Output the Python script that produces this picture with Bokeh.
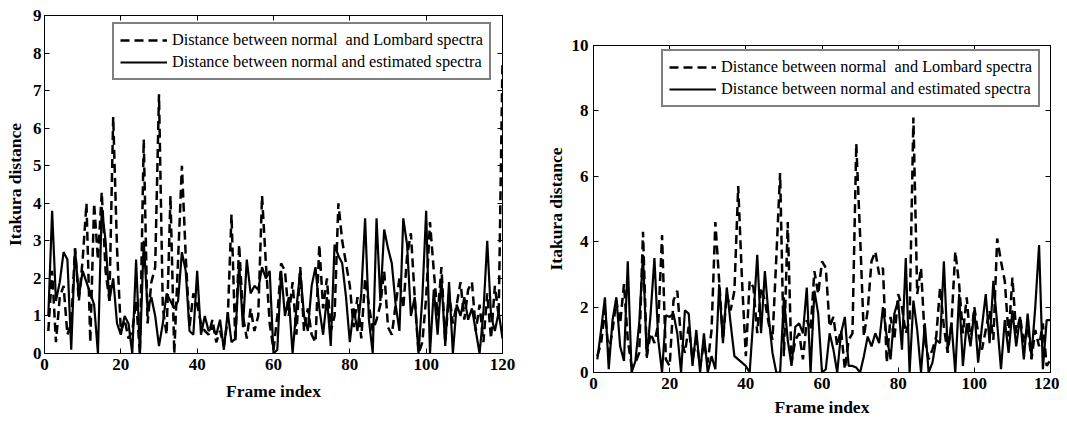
from bokeh.plotting import figure
from bokeh.layouts import row, column
from bokeh.models import Range1d, LinearAxis, FixedTicker, Legend, LegendItem
from bokeh.embed import file_html
from bokeh.resources import INLINE

# ---------------- data ----------------
frames = list(range(1, 121))

left_lombard = [
    0.6, 2.2, 0.3, 1.5, 1.8, 0.5, 0.8, 2.8, 1.4, 2.5,
    4.0, 0.3, 4.0, 2.5, 4.3, 2.2, 1.4, 6.3, 2.8, 0.6,
    0.9, 0.4, 0.6, 1.4, 0.0, 5.7, 0.8, 1.9, 2.3, 6.9,
    1.2, 0.5, 4.2, 0.0, 2.5, 5.0, 2.6, 0.7, 1.6, 1.3,
    0.8, 0.6, 0.5, 0.9, 0.3, 0.6, 0.2, 0.9, 3.7, 0.3,
    2.9, 1.0, 0.4, 1.2, 0.6, 1.0, 4.2, 2.4, 0.8, 0.1,
    1.0, 2.4, 2.2, 1.0, 1.9, 0.5, 2.3, 0.6, 1.2, 0.5,
    0.3, 2.9, 1.2, 2.0, 0.6, 1.0, 4.0, 3.0, 2.4, 1.8,
    0.7, 1.5, 0.4, 2.0, 1.3, 0.6, 0.9, 1.3, 2.2, 0.7,
    0.5, 1.3, 2.0, 1.2, 2.6, 3.2, 1.5, 0.0, 0.3, 1.5,
    3.5, 2.2, 1.0, 2.3, 0.3, 1.6, 0.8, 1.3, 1.9, 0.9,
    1.7, 1.9, 0.6, 1.3, 0.3, 1.6, 0.4, 1.8, 1.0, 7.8,
]
left_estimated = [
    1.0, 3.8, 1.4, 1.9, 2.7, 2.5, 0.1, 2.8, 1.5, 2.2,
    1.9, 1.6, 1.3, 0.0, 3.9, 3.0, 1.4, 2.0, 0.8, 0.5,
    1.0, 0.8, 0.0, 2.5, 0.0, 3.0, 1.2, 1.5, 1.0, 0.2,
    0.8, 1.6, 1.4, 1.2, 1.4, 2.7, 2.2, 0.6, 0.5, 2.2,
    0.5, 1.0, 0.6, 0.7, 0.5, 0.9, 0.1, 1.1, 0.3, 0.4,
    2.4, 0.7, 2.5, 1.6, 1.8, 1.7, 2.3, 2.0, 2.2, 0.0,
    0.1, 2.2, 1.0, 1.5, 0.0, 1.2, 2.2, 1.0, 0.6, 1.8,
    2.3, 1.2, 0.5, 1.5, 0.2, 2.9, 2.6, 2.4, 1.5, 0.3,
    1.2, 0.6, 1.6, 3.6, 0.9, 0.0, 3.6, 1.4, 3.3, 2.8,
    2.4, 1.3, 0.6, 3.6, 2.9, 1.0, 1.5, 0.0, 1.5, 3.8,
    0.0, 1.7, 0.5, 2.0, 0.2, 1.9, 0.0, 1.3, 1.0, 1.5,
    0.9, 1.2, 0.6, 0.0, 1.1, 3.0, 1.0, 0.6, 1.1, 0.4,
]
right_lombard = [
    0.5, 0.9, 1.9, 0.6, 1.3, 2.2, 1.5, 2.7, 1.0, 0.2,
    0.3, 0.6, 4.3, 0.5, 1.2, 0.9, 1.5, 4.2, 0.4, 0.2,
    2.2, 2.5, 1.0, 0.6, 1.4, 0.4, 1.0, 0.2, 0.9, 0.3,
    1.3, 4.6, 2.8, 1.0, 2.4, 1.9, 2.5, 5.7, 2.8, 0.5,
    2.8, 2.6, 1.2, 2.6, 2.2, 1.5, 1.0, 3.5, 6.1, 0.5,
    4.6, 0.3, 1.0, 1.2, 0.4, 1.6, 1.3, 3.1, 2.4, 3.4,
    3.2, 1.4, 1.7, 0.8, 1.3, 0.1, 1.0, 1.2, 7.0, 4.2,
    1.1, 1.9, 3.4, 3.7, 3.0, 3.2, 0.3, 1.7, 1.0, 2.4,
    2.0, 1.2, 1.6, 7.8, 2.4, 3.2, 1.0, 0.4, 0.7, 1.1,
    2.6, 1.4, 0.6, 1.5, 3.7, 2.7, 1.2, 2.3, 0.9, 2.0,
    1.2, 0.7, 1.3, 1.9, 1.0, 4.1, 3.4, 2.8, 1.1, 2.9,
    1.2, 1.7, 0.9, 1.4, 0.4, 1.3, 0.8, 1.5, 0.2, 0.4,
]
right_estimated = [
    0.4, 1.3, 2.3, 0.1, 1.6, 2.3, 0.8, 0.35, 3.4, 0.0,
    0.35, 1.5, 3.6, 0.45, 1.8, 3.5, 1.0, 0.0, 1.75, 1.7,
    1.8, 1.2, 0.0, 1.9, 1.8, 0.2, 1.3, 0.0, 1.2, 0.0,
    0.5, 0.1, 2.7, 0.9, 2.6, 1.5, 0.5, 0.4, 0.3, 0.2,
    0.0, 1.7, 3.6, 1.2, 3.1, 1.7, 0.6, 0.0, 0.0, 2.3,
    1.0, 0.2, 1.4, 1.5, 1.2, 2.6, 0.0, 2.5, 1.8, 0.0,
    0.1, 1.2, 0.7, 0.0, 1.2, 1.7, 0.2, 0.2, 0.15, 0.0,
    0.5, 1.1, 0.8, 1.2, 0.9, 2.0, 1.1, 0.4, 1.8, 2.2,
    0.7, 3.5, 0.0, 2.2, 1.3, 0.0, 1.5, 0.0, 0.3, 1.0,
    0.9, 3.4, 0.7, 1.5, 0.0, 2.4, 0.2, 1.5, 0.8, 1.9,
    0.3, 1.4, 2.4, 0.9, 2.8, 1.5, 0.1, 1.6, 0.6, 1.9,
    0.8, 1.7, 0.4, 1.8, 0.5, 2.0, 3.9, 0.1, 1.6, 1.6,
]

label_lombard = "Distance between normal  and Lombard spectra"
label_estimated = "Distance between normal and estimated spectra"
x_title = "Frame index"
y_title = "Itakura distance"
x_ticks = [0, 20, 40, 60, 80, 100, 120]
left_y_ticks = [0, 1, 2, 3, 4, 5, 6, 7, 8, 9]
right_y_ticks = [0, 2, 4, 6, 8, 10]

SERIF = "Liberation Serif"


def style_axis(ax, ticks, show_labels=True):
    ax.ticker = FixedTicker(ticks=ticks)
    ax.minor_tick_line_color = None
    ax.major_tick_in = 5
    ax.major_tick_out = 0
    ax.axis_line_color = "black"
    ax.major_tick_line_color = "black"
    ax.major_label_text_font = SERIF
    ax.major_label_text_font_style = "bold"
    ax.major_label_text_font_size = "17px"
    ax.major_label_text_color = "black"
    ax.major_label_standoff = 5
    ax.axis_label_text_font = SERIF
    ax.axis_label_text_font_style = "bold"
    ax.axis_label_text_font_size = "17.5px"
    ax.axis_label_text_color = "black"
    if not show_labels:
        ax.major_label_overrides = {t: "" for t in ticks}
        ax.major_label_text_font_size = "0px"
        ax.major_label_standoff = 0
        ax.axis_label_standoff = 0


def make_plot(lombard, estimated, ymax, yticks, width, height,
              bl, br, bt, bb, legend_xy, y_tick_standoff, ylabel_standoff,
              xlabel_standoff):
    p = figure(width=width, height=height, output_backend="svg",
               toolbar_location=None,
               x_range=Range1d(0, 120), y_range=Range1d(0, ymax),
               min_border_left=bl, min_border_right=br,
               min_border_top=bt, min_border_bottom=bb)
    p.xgrid.visible = False
    p.ygrid.visible = False
    p.outline_line_color = "black"
    p.outline_line_width = 1
    p.background_fill_color = "white"
    p.border_fill_color = "white"

    style_axis(p.xaxis[0], x_ticks)
    style_axis(p.yaxis[0], yticks)
    p.xaxis[0].axis_label = x_title
    p.yaxis[0].axis_label = y_title
    p.xaxis[0].axis_label_standoff = xlabel_standoff
    p.yaxis[0].major_label_standoff = y_tick_standoff
    p.yaxis[0].axis_label_standoff = ylabel_standoff

    top = LinearAxis()
    style_axis(top, x_ticks, show_labels=False)
    p.add_layout(top, "above")
    right = LinearAxis()
    style_axis(right, yticks, show_labels=False)
    p.add_layout(right, "right")

    r1 = p.line(frames, lombard, line_color="black", line_width=2.5,
                line_dash="9 5")
    r2 = p.line(frames, estimated, line_color="black", line_width=2.2)

    leg = Legend(items=[LegendItem(label=label_lombard, renderers=[r1]),
                        LegendItem(label=label_estimated, renderers=[r2])],
                 location=legend_xy)
    leg.label_text_font = SERIF
    leg.label_text_font_size = "16.3px"
    leg.label_text_color = "black"
    leg.border_line_color = "black"
    leg.border_line_width = 2
    leg.background_fill_color = "white"
    leg.background_fill_alpha = 1
    leg.glyph_width = 47
    leg.glyph_height = 20
    leg.label_height = 20
    leg.label_standoff = 5
    leg.padding = 6
    leg.spacing = 2
    leg.margin = 0
    p.add_layout(leg, "center")
    return p


p1 = make_plot(left_lombard, left_estimated, 9, left_y_ticks,
               width=520, height=410, bl=44, br=18, bt=15, bb=57,
               legend_xy=(68, 273), y_tick_standoff=3, ylabel_standoff=5,
               xlabel_standoff=8)
p2 = make_plot(right_lombard, right_estimated, 10, right_y_ticks,
               width=539, height=419, bl=73, br=9, bt=45, bb=46,
               legend_xy=(68, 265), y_tick_standoff=5, ylabel_standoff=3,
               xlabel_standoff=5)

layout = row(column(p1), column(p2))
open("out.html", "w").write(file_html(layout, INLINE))
